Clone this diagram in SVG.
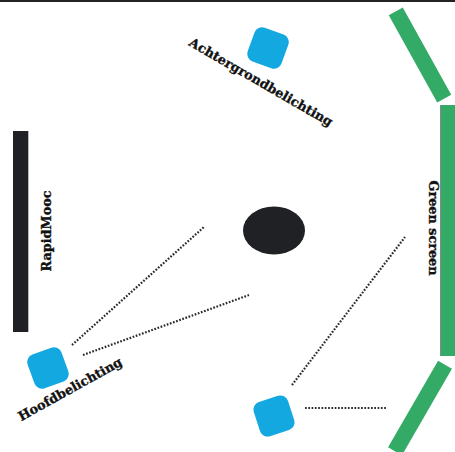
<svg xmlns="http://www.w3.org/2000/svg" width="455" height="452" viewBox="0 0 455 452">
<style>
.lbl{font-family:"DejaVu Serif",serif;font-weight:bold;font-size:12.8px;fill:#111;stroke:#111;stroke-width:0.35;text-anchor:middle}
.lamp{fill:#14a8e0}
.green{fill:#33aa66}
.dot{fill:none;stroke:#2a2a2a;stroke-width:2.2;stroke-dasharray:1.7 1.6}
</style>
<rect x="0" y="0" width="455" height="452" fill="#fff"/>
<line x1="0" y1="1" x2="455" y2="1" stroke="#222" stroke-width="2"/>
<g id="connectors">
<line class="dot" x1="72" y1="345" x2="204" y2="227"/>
<line class="dot" x1="83" y1="355" x2="249" y2="295"/>
<line class="dot" x1="292" y1="385" x2="405" y2="237"/>
<line class="dot" x1="305" y1="408" x2="386" y2="408"/>
</g>
<g id="rapidmooc">
<rect x="13" y="131" width="15" height="201" fill="#202124"/>
<line x1="28.5" y1="131" x2="28.5" y2="332" stroke="#bbb" stroke-width="1"/>
<text class="lbl" transform="translate(50.5,231) rotate(-90)">RapidMooc</text>
</g>
<g id="greenscreen">
<rect class="green" x="441" y="105" width="14" height="251"/>
<line x1="440.5" y1="105" x2="440.5" y2="356" stroke="#888" stroke-width="1"/>
<text class="lbl" transform="translate(428.5,228) rotate(90)">Green screen</text>
</g>
<g id="panel-top">
<rect class="green" x="-8" y="-50" width="16" height="100" transform="translate(420,55) rotate(-29)"/>
</g>
<g id="panel-bottom">
<rect class="green" x="-8" y="-50" width="16" height="100" transform="translate(420,408) rotate(30)"/>
</g>
<g id="subject">
<ellipse cx="274" cy="230.5" rx="31" ry="24" fill="#202124"/>
</g>
<g id="achtergrondbelichting">
<rect class="lamp" x="-18" y="-18" width="36" height="36" rx="8" transform="translate(268,48) rotate(20)"/>
<text class="lbl" transform="translate(261,82) rotate(30)" y="4.5">Achtergrondbelichting</text>
</g>
<g id="hoofdbelichting">
<rect class="lamp" x="-18" y="-18" width="36" height="36" rx="8" transform="translate(48,368) rotate(-20)"/>
<text class="lbl" transform="translate(70,389) rotate(-29)" y="4.5">Hoofdbelichting</text>
</g>
<g id="lamp-bottom">
<rect class="lamp" x="-18" y="-18" width="36" height="36" rx="8" transform="translate(274,416) rotate(-18)"/>
</g>
</svg>
